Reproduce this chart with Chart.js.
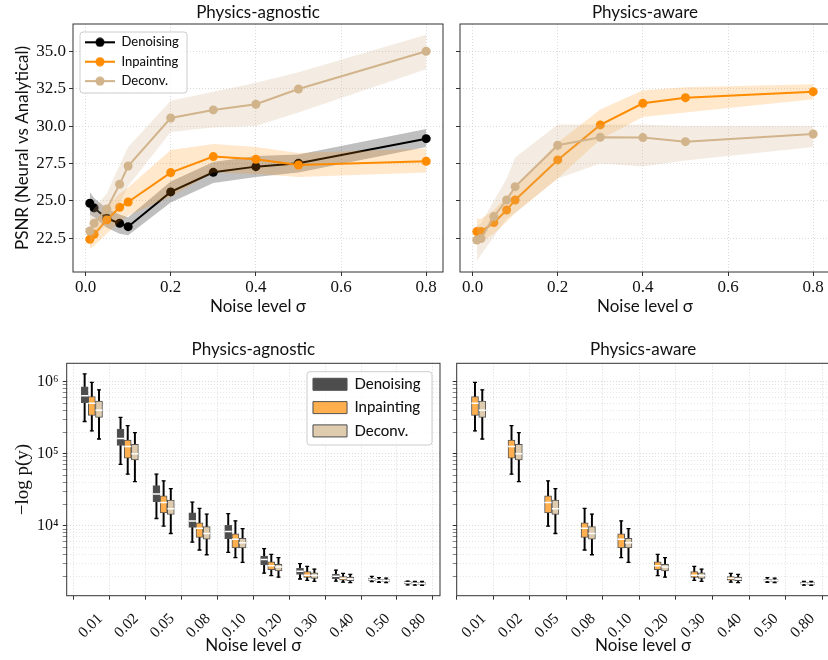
<!DOCTYPE html>
<html>
<head>
<meta charset="utf-8">
<script src="https://cdn.jsdelivr.net/npm/chart.js@4.4.0/dist/chart.umd.min.js"></script>
<style>
  html, body { margin: 0; padding: 0; background: #fff; overflow: hidden; width: 828px; height: 660px; position: relative; }
  canvas { position: absolute; }
</style>
</head>
<body>
<canvas id="psnrAgnostic" style="left:0;top:0" width="450" height="322"></canvas>
<canvas id="psnrAware" style="left:443px;top:0" width="392" height="322"></canvas>
<canvas id="nllAgnostic" style="left:0;top:325px" width="448" height="335"></canvas>
<canvas id="nllAware" style="left:440px;top:325px" width="395" height="335"></canvas>
<script>
// noise levels and tick labels
const sigma = [0.01, 0.02, 0.05, 0.08, 0.1, 0.2, 0.3, 0.4, 0.5, 0.8];
const sigmaLabels = ['0.01', '0.02', '0.05', '0.08', '0.10', '0.20', '0.30', '0.40', '0.50', '0.80'];
const psnrTicksX = [0, 0.2, 0.4, 0.6, 0.8];
const psnrTicksY = [22.5, 25, 27.5, 30, 32.5, 35];
const nllMajor = [1e4, 1e5, 1e6];
const nllMajorLabels = ['10⁴', '10⁵', '10⁶'];

// PSNR, physics-agnostic (mean, band low, band high)
const agnDen   = [24.84, 24.53, 23.84, 23.50, 23.28, 25.60, 26.91, 27.29, 27.51, 29.16];
const agnDenLo = [24.1, 23.9, 23.2, 22.8, 22.7, 24.9, 26.2, 26.6, 26.9, 28.6];
const agnDenHi = [25.6, 25.2, 24.5, 24.1, 23.9, 26.3, 27.6, 28.0, 28.1, 29.8];
const agnInp   = [22.43, 22.77, 23.73, 24.57, 24.93, 26.89, 27.96, 27.78, 27.40, 27.65];
const agnInpLo = [21.8, 22.0, 22.8, 23.6, 24.0, 25.3, 26.9, 26.8, 26.6, 26.9];
const agnInpHi = [23.1, 23.5, 24.6, 25.5, 25.9, 28.4, 28.8, 28.6, 28.2, 28.5];
const agnDec   = [22.99, 23.50, 24.46, 26.11, 27.33, 30.54, 31.08, 31.46, 32.48, 35.00];
const agnDecLo = [22.0, 22.6, 23.4, 24.8, 26.0, 29.6, 29.9, 30.0, 30.9, 33.8];
const agnDecHi = [24.0, 24.5, 25.5, 27.4, 28.6, 31.7, 32.3, 32.9, 33.6, 36.1];

// PSNR, physics-aware
const awrInp   = [22.95, 22.95, 23.55, 24.39, 25.06, 27.74, 30.08, 31.52, 31.90, 32.30];
const awrInpLo = [22.2, 22.3, 22.8, 23.6, 24.2, 26.5, 29.1, 30.6, 30.9, 31.8];
const awrInpHi = [23.8, 23.8, 24.4, 25.3, 25.9, 28.9, 31.1, 32.4, 32.6, 32.8];
const awrDec   = [22.39, 22.48, 23.95, 25.06, 25.95, 28.72, 29.25, 29.23, 28.96, 29.47];
const awrDecLo = [21.0, 21.4, 22.6, 23.8, 24.2, 26.5, 27.5, 27.3, 27.7, 28.6];
const awrDecHi = [23.3, 23.5, 25.0, 26.5, 27.9, 30.1, 30.1, 30.1, 30.0, 30.0];

// -log p(y) box statistics (whisker low, q1, median, q3, whisker high)
const denLow  = [2.8e5, 7.1e4, 1.26e4, 5.9e3, 4.27e3, 2.2e3, 1.82e3, 1.70e3, 1.67e3, 1.51e3];
const denQ1   = [5.1e5, 1.3e5, 2.15e4, 9.5e3, 6.6e3, 2.85e3, 2.1e3, 1.84e3, 1.74e3, 1.55e3];
const denMed  = [6.4e5, 1.63e5, 2.76e4, 1.16e4, 8.3e3, 3.4e3, 2.34e3, 1.98e3, 1.81e3, 1.61e3];
const denQ3   = [8.5e5, 2.2e5, 3.6e4, 1.51e4, 1.01e4, 3.8e3, 2.55e3, 2.11e3, 1.87e3, 1.67e3];
const denHigh = [1.28e6, 3.2e5, 5.2e4, 2.13e4, 1.47e4, 4.8e3, 2.97e3, 2.42e3, 1.98e3, 1.70e3];
const inpLow  = [2.07e5, 5.2e4, 9.9e3, 4.6e3, 3.6e3, 2.03e3, 1.74e3, 1.65e3, 1.64e3, 1.50e3];
const inpQ1   = [3.4e5, 8.7e4, 1.5e4, 6.9e3, 4.9e3, 2.45e3, 1.91e3, 1.76e3, 1.70e3, 1.54e3];
const inpMed  = [5.0e5, 1.26e5, 2.1e4, 9.2e3, 6.5e3, 2.78e3, 2.06e3, 1.86e3, 1.75e3, 1.59e3];
const inpQ3   = [6.2e5, 1.55e5, 2.6e4, 1.1e4, 7.7e3, 3.15e3, 2.3e3, 1.96e3, 1.80e3, 1.63e3];
const inpHigh = [9.8e5, 2.45e5, 4.2e4, 1.74e4, 1.17e4, 4.0e3, 2.72e3, 2.18e3, 1.90e3, 1.68e3];
const decLow  = [1.6e5, 4.1e4, 7.8e3, 3.95e3, 3.1e3, 1.93e3, 1.69e3, 1.62e3, 1.62e3, 1.49e3];
const decQ1   = [3.2e5, 8.2e4, 1.44e4, 6.5e3, 4.9e3, 2.36e3, 1.86e3, 1.72e3, 1.68e3, 1.53e3];
const decMed  = [4.0e5, 1.0e5, 1.72e4, 7.8e3, 5.8e3, 2.67e3, 2.04e3, 1.82e3, 1.73e3, 1.57e3];
const decQ3   = [5.4e5, 1.35e5, 2.27e4, 9.7e3, 6.7e3, 2.9e3, 2.22e3, 1.94e3, 1.78e3, 1.62e3];
const decHigh = [7.7e5, 1.96e5, 3.27e4, 1.45e4, 9.1e3, 3.6e3, 2.5e3, 2.11e3, 1.87e3, 1.68e3];

const SANS = 'Lato';
const SERIF = 'Liberation Serif';
Chart.defaults.font.family = SANS;
Chart.defaults.color = '#111';

const col = { den: '#000000', inp: '#ff8c00', dec: '#d2b48c' };
const band = { den: 'rgba(0,0,0,0.25)', inp: 'rgba(255,140,0,0.2)', dec: 'rgba(210,180,140,0.25)' };
const boxFill = { den: '#4d4d4d', inp: '#ffaf4d', dec: '#dfcbae' };

const pts = ys => sigma.map((s, i) => ({ x: s, y: ys[i] }));

function bandSets(lo, hi, color, order) {
  return [
    { label: '', data: pts(lo), borderWidth: 0, pointRadius: 0, fill: false, order: order },
    { label: '', data: pts(hi), borderWidth: 0, pointRadius: 0, fill: '-1', backgroundColor: color, order: order }
  ];
}
function lineSet(label, ys, color, order) {
  return {
    label: label, data: pts(ys), borderColor: color, backgroundColor: color, borderWidth: 2,
    pointRadius: 4.5, pointHoverRadius: 4.5, pointBorderWidth: 0, pointBackgroundColor: color,
    fill: false, order: order
  };
}

// legend icon: short line with a marker
function lineIcon(color) {
  const cv = document.createElement('canvas');
  cv.width = 30; cv.height = 10;
  const c = cv.getContext('2d');
  c.strokeStyle = color; c.lineWidth = 2;
  c.beginPath(); c.moveTo(0, 5); c.lineTo(30, 5); c.stroke();
  c.fillStyle = color;
  c.beginPath(); c.arc(15, 5, 4.5, 0, Math.PI * 2); c.fill();
  return cv;
}

// axes box (all four spines)
const spines = {
  id: 'spines',
  afterDatasetsDraw(ch) {
    const a = ch.chartArea, c = ch.ctx;
    c.save();
    c.strokeStyle = '#333'; c.lineWidth = 1;
    c.strokeRect(a.left, a.top, a.right - a.left, a.bottom - a.top);
    c.restore();
  }
};

// moves the in-axes legend and puts a matplotlib-like frame behind it
function legendBox(x, y, fx, fy, fw, fh) {
  return {
    id: 'legendBox',
    afterLayout(ch) {
      const lg = ch.legend;
      const w = lg.width;
      lg.left = x; lg.right = x + w + 20; lg.top = y; lg.bottom = y + 200;
    },
    afterDraw(ch) {
      const c = ch.ctx;
      c.save();
      c.beginPath();
      c.roundRect(fx, fy, fw, fh, 3);
      c.fillStyle = 'rgba(255,255,255,0.8)';
      c.fill();
      c.strokeStyle = '#cccccc'; c.lineWidth = 1;
      c.stroke();
      c.restore();
      ch.legend.draw();
    }
  };
}

const gridOpts = { color: '#d2d2d2', lineWidth: 0.8, tickColor: '#333', tickLength: 4, tickWidth: 1 };
const dotted = { display: false, dash: [1, 2] };

function psnrOptions(title, yWidth, showY, padRight) {
  return {
    responsive: false, animation: false, events: [],
    layout: { padding: { left: 0, right: padRight, top: 0, bottom: 0 } },
    plugins: {
      title: { display: true, text: title, fullSize: false, font: { size: 17, weight: 'normal' }, color: '#111', padding: { top: 2, bottom: 1.6 } },
      legend: { display: false },
      tooltip: { enabled: false }
    },
    scales: {
      x: {
        type: 'linear', min: -0.0295, max: 0.8395,
        afterBuildTicks: s => { s.ticks = psnrTicksX.map(v => ({ value: v })); },
        ticks: { callback: v => v.toFixed(1), font: { family: SERIF, size: 17 }, color: '#111', padding: 1, maxRotation: 0, autoSkip: false },
        grid: gridOpts, border: dotted,
        title: { display: true, text: 'Noise level σ', font: { size: 17 }, color: '#111', padding: { top: 0, bottom: 5 } },
        afterFit: s => { s.height = 50; }
      },
      y: {
        type: 'linear', min: 20.25, max: 36.82,
        afterBuildTicks: s => { s.ticks = psnrTicksY.map(v => ({ value: v })); },
        ticks: { display: showY, callback: v => v.toFixed(1), font: { family: SERIF, size: 17 }, color: '#111', padding: 3, autoSkip: false },
        grid: gridOpts, border: dotted,
        title: { display: showY, text: 'PSNR (Neural vs Analytical)', font: { size: 17 }, color: '#111', padding: { top: 12, bottom: 0 } },
        afterFit: s => { s.width = yWidth; }
      }
    }
  };
}

// PSNR, physics-agnostic
const agnOpts = psnrOptions('Physics-agnostic', 73, true, 7);
agnOpts.plugins.legend = {
  display: true, position: 'chartArea', align: 'start',
  labels: {
    usePointStyle: true, pointStyleWidth: 30, padding: 6.4, font: { size: 13 }, color: '#111',
    sort: (a, b) => a.datasetIndex - b.datasetIndex,
    generateLabels: ch => Chart.defaults.plugins.legend.labels.generateLabels(ch)
      .filter(it => it.text !== '')
      .map(it => Object.assign(it, { pointStyle: lineIcon(ch.data.datasets[it.datasetIndex].borderColor) }))
  }
};
new Chart(document.getElementById('psnrAgnostic'), {
  type: 'line',
  data: {
    datasets: [
      ...bandSets(agnDenLo, agnDenHi, band.den, 6),
      lineSet('Denoising', agnDen, col.den, 5),
      ...bandSets(agnInpLo, agnInpHi, band.inp, 4),
      lineSet('Inpainting', agnInp, col.inp, 3),
      ...bandSets(agnDecLo, agnDecHi, band.dec, 2),
      lineSet('Deconv.', agnDec, col.dec, 1)
    ]
  },
  options: agnOpts,
  plugins: [spines, legendBox(78.6, 29.4, 80, 32, 107, 61)]
});

// PSNR, physics-aware
new Chart(document.getElementById('psnrAware'), {
  type: 'line',
  data: {
    datasets: [
      ...bandSets(awrInpLo, awrInpHi, band.inp, 4),
      lineSet('Inpainting', awrInp, col.inp, 3),
      ...bandSets(awrDecLo, awrDecHi, band.dec, 2),
      lineSet('Deconv.', awrDec, col.dec, 1)
    ]
  },
  options: psnrOptions('Physics-aware', 17, false, 5),
  plugins: [spines]
});

// box plots built from floating bars (box, whisker) and line markers (median, caps)
function boxSets(label, off, fill, lo, q1, med, q3, hi) {
  const at = arr => arr.map((v, i) => ({ x: i + off, y: v }));
  return [
    { type: 'bar', label: '', data: lo.map((v, i) => ({ x: i + off, y: [v, hi[i]] })), backgroundColor: '#000', barThickness: 1.3, grouped: false, order: 3 },
    { type: 'bar', label: label, data: q1.map((v, i) => ({ x: i + off, y: [v, q3[i]] })), backgroundColor: fill, borderColor: '#555', borderWidth: 1, borderSkipped: false, barThickness: 7, grouped: false, order: 2 },
    { type: 'scatter', label: '', data: at(med), pointStyle: 'line', pointRadius: 3.5, pointBorderColor: '#fff', pointBorderWidth: 1.5, order: 1 },
    { type: 'scatter', label: '', data: at(lo).concat(at(hi)), pointStyle: 'line', pointRadius: 2, pointBorderColor: '#000', pointBorderWidth: 1.3, order: 1 }
  ];
}

const nllMin = 1067, nllMax = 1.8e6;
const nllTicks = [];
[1e3, 1e4, 1e5, 1e6].forEach(d => {
  for (let m = 1; m <= 9; m++) {
    const v = m === 1 ? d : m * d;
    if (v >= nllMin && v <= nllMax) nllTicks.push(v);
  }
});

function nllOptions(title, xMin, yWidth, showY, padRight) {
  return {
    responsive: false, animation: false, events: [],
    layout: { padding: { left: 0, right: padRight, top: 0, bottom: 0 } },
    plugins: {
      title: { display: true, text: title, fullSize: false, font: { size: 17, weight: 'normal' }, color: '#111', padding: { top: 14.8, bottom: 3.1 } },
      legend: { display: false },
      tooltip: { enabled: false }
    },
    scales: {
      x: {
        type: 'linear', min: xMin, max: 9.7, offset: false,
        afterBuildTicks: s => { s.ticks = sigmaLabels.map((t, i) => ({ value: i })); },
        ticks: { callback: v => sigmaLabels[v], font: { family: SERIF, size: 15.5 }, color: '#111', minRotation: 45, maxRotation: 45, padding: 10, labelOffset: 8.5, autoSkip: false },
        grid: gridOpts, border: dotted,
        title: { display: true, text: 'Noise level σ', font: { size: 17 }, color: '#111', padding: { top: 0, bottom: 4.5 } },
        afterFit: s => { s.height = 64.3; }
      },
      y: {
        type: 'logarithmic', min: nllMin, max: nllMax,
        afterBuildTicks: s => { s.ticks = nllTicks.map(v => ({ value: v })); },
        ticks: {
          display: showY, autoSkip: false, font: { family: SERIF, size: 16 }, color: '#111', padding: 4,
          callback: v => { const k = nllMajor.indexOf(v); return k < 0 ? '' : nllMajorLabels[k]; }
        },
        grid: {
          color: ctx => (ctx.tick && nllMajor.includes(ctx.tick.value)) ? '#d2d2d2' : '#e0e0e0',
          lineWidth: 0.8, tickColor: '#333', tickLength: 4,
          tickWidth: ctx => (ctx.tick && nllMajor.includes(ctx.tick.value)) ? 1 : 0.6
        },
        border: dotted,
        title: { display: showY, text: '−log p(y)', font: { family: SERIF, size: 19 }, color: '#111', padding: { top: 12, bottom: 0 } },
        afterFit: s => { s.width = yWidth; }
      }
    }
  };
}

// -log p(y), physics-agnostic
const nllAgnOpts = nllOptions('Physics-agnostic', -0.7, 66.7, true, 8);
nllAgnOpts.plugins.legend = {
  display: true, position: 'chartArea', align: 'start',
  labels: { boxWidth: 34, boxHeight: 12, padding: 8.3, font: { size: 15 }, color: '#111', filter: it => it.text !== '' }
};
new Chart(document.getElementById('nllAgnostic'), {
  type: 'bar',
  data: {
    datasets: [
      ...boxSets('Denoising', -0.2, boxFill.den, denLow, denQ1, denMed, denQ3, denHigh),
      ...boxSets('Inpainting', 0, boxFill.inp, inpLow, inpQ1, inpMed, inpQ3, inpHigh),
      ...boxSets('Deconv.', 0.2, boxFill.dec, decLow, decQ1, decMed, decQ3, decHigh)
    ]
  },
  options: nllAgnOpts,
  plugins: [spines, legendBox(304.7, 43.5, 307, 46.7, 125, 73.3)]
});

// -log p(y), physics-aware
new Chart(document.getElementById('nllAware'), {
  type: 'bar',
  data: {
    datasets: [
      ...boxSets('Inpainting', 0, boxFill.inp, inpLow, inpQ1, inpMed, inpQ3, inpHigh),
      ...boxSets('Deconv.', 0.2, boxFill.dec, decLow, decQ1, decMed, decQ3, decHigh)
    ]
  },
  options: nllOptions('Physics-aware', -0.5, 16.7, false, 5),
  plugins: [spines]
});
</script>
</body>
</html>
